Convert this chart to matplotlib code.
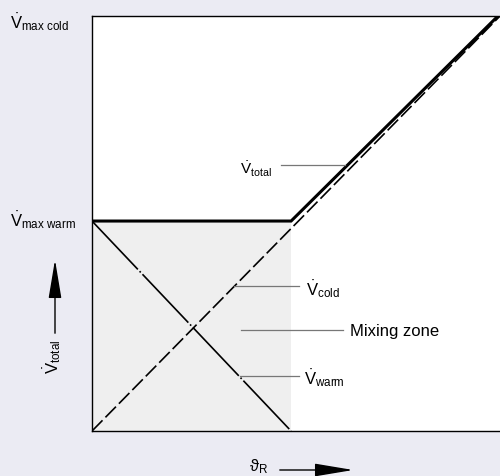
import matplotlib
matplotlib.use("Agg")
import matplotlib.pyplot as plt
from matplotlib.patches import FancyArrowPatch

plt.rcParams['font.family'] = ['Liberation Sans', 'DejaVu Sans']
plt.rcParams['mathtext.fontset'] = 'custom'
plt.rcParams['mathtext.rm'] = 'Liberation Sans'
plt.rcParams['mathtext.it'] = 'Liberation Sans'

# mixing valve characteristic (normalised units)
theta_mix = 0.488          # end of mixing zone on the theta_R axis
v_max_warm = 0.506
v_max_cold = 1.0

theta_total = [0.0, theta_mix, 0.995]
v_total = [v_max_warm, v_max_warm, v_max_cold]
theta_cold = [0.0, 1.0]
v_cold = [0.0, v_max_cold]
theta_warm = [0.0, theta_mix]
v_warm = [v_max_warm, 0.0]

bg = '#ebebf3'
fig = plt.figure(figsize=(5, 4.77), dpi=100, facecolor=bg)
ax = fig.add_axes([0.184, 0.0943, 0.816, 0.870])
ax.set_facecolor('white')

# mixing zone shading
ax.fill_between([0.0, theta_mix], 0, v_max_warm, color='#efefef', lw=0)

ax.plot(theta_cold, v_cold, color='k', lw=1.2, dashes=(9, 2.5))
ax.plot(theta_warm, v_warm, color='k', lw=1.2, dashes=(40, 1.5, 1, 1.5))
ax.plot(theta_total, v_total, color='k', lw=2.2, solid_joinstyle='miter')

ax.set_xlim(0, 1)
ax.set_ylim(0, 1)
ax.set_xticks([])
ax.set_yticks([])
ax.spines['right'].set_visible(False)
for s in ['left', 'top', 'bottom']:
    ax.spines[s].set_linewidth(1.0)

# labels with leader lines
lead = dict(color='#777777', lw=0.9)
ax.plot([0.464, 0.621], [0.640, 0.640], **lead)
ax.text(0.363, 0.633, r'$\dot{\mathrm{V}}_{\mathrm{total}}$', fontsize=11,
        ha='left', va='center')
ax.plot([0.348, 0.507], [0.349, 0.349], **lead)
ax.text(0.525, 0.345, r'$\dot{\mathrm{V}}_{\mathrm{cold}}$', fontsize=12,
        ha='left', va='center')
ax.plot([0.365, 0.615], [0.243, 0.243], **lead)
ax.text(0.632, 0.243, 'Mixing zone', fontsize=12, ha='left', va='center')
ax.plot([0.363, 0.507], [0.133, 0.133], **lead)
ax.text(0.520, 0.131, r'$\dot{\mathrm{V}}_{\mathrm{warm}}$', fontsize=12,
        ha='left', va='center')

fig.text(0.02, 0.941, r'$\dot{\mathrm{V}}_{\mathrm{max\ cold}}$', fontsize=12,
         ha='left', va='baseline')
fig.text(0.02, 0.526, r'$\dot{\mathrm{V}}_{\mathrm{max\ warm}}$', fontsize=12,
         ha='left', va='baseline')

# axis arrows
fig.text(0.104, 0.252, r'$\dot{\mathrm{V}}_{\mathrm{total}}$', fontsize=12,
         rotation=90, ha='center', va='center')
fig.patches.append(FancyArrowPatch((55 / 500, 1 - 337 / 477), (55 / 500, 1 - 258 / 477),
                                   transform=fig.transFigure, color='k', lw=1.0,
                                   arrowstyle='-|>,head_length=2.4,head_width=0.4',
                                   mutation_scale=10))
fig.text(0.498, 0.003, r'$\vartheta_{\mathrm{R}}$', fontsize=12,
         ha='left', va='bottom')
fig.patches.append(FancyArrowPatch((277 / 500, 1 - 471 / 477), (356 / 500, 1 - 471 / 477),
                                   transform=fig.transFigure, color='k', lw=1.0,
                                   arrowstyle='-|>,head_length=2.4,head_width=0.4',
                                   mutation_scale=10))

fig.savefig('out.png', dpi=100, facecolor=bg)
